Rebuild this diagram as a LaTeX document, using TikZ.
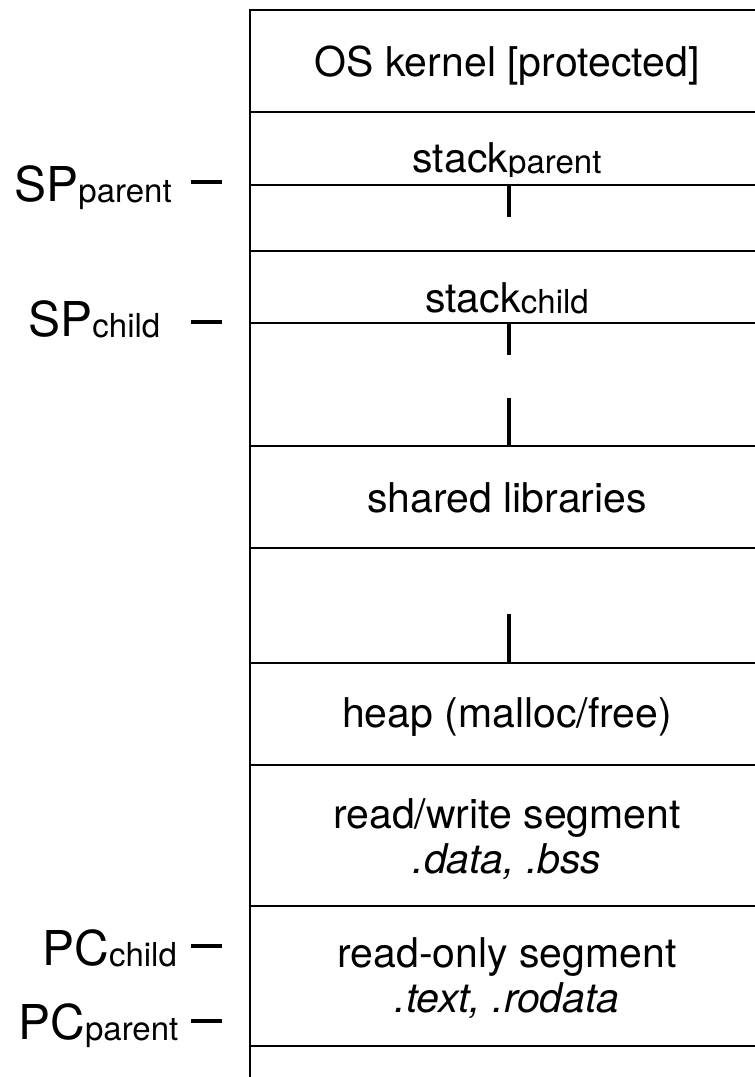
\documentclass[tikz,border=0pt]{standalone}
\usepackage{fontspec}
\setmainfont{TeX Gyre Heros}
\newcommand{\lowsub}[1]{\raisebox{-0.8pt}{\fontsize{16.5}{16.5}\selectfont #1}}

\begin{document}
\begin{tikzpicture}[x=0.5pt, y=-0.5pt,
  seg/.style={line width=1.1pt},
  growtick/.style={line width=1.6pt},
  marker/.style={line width=2.2pt},
  box/.style={font=\fontsize{20.5}{22.5}\selectfont, align=center, inner sep=0pt, anchor=base},
  lbl/.style={font=\fontsize{24}{24}\selectfont, inner sep=0pt, anchor=base west}]
\useasboundingbox (0,0) rectangle (755,1077);

\draw[seg] (250,1077) -- (250,10) -- (755,10);
\foreach \y in {112,185,251,323,446,548,663,765,906,1046}
  \draw[seg] (250,\y) -- (755,\y);

\foreach \a/\b in {185/217, 323/355, 398/446, 614/663}
  \draw[growtick] (509,\a) -- (509,\b);

\node[box] (kernel) at (507,76) {OS kernel [protected]};
\begin{scope}
\clip (250,112) rectangle (755,176);
\node[box] (stackp) at (507,172) {stack\lowsub{parent}};
\end{scope}
\node[box] (stackc) at (507,312) {stack\lowsub{child}};
\node[box] (shlib) at (507,512) {shared libraries};
\node[box] (heap) at (507,727) {heap (malloc/free)};
% multi-line nodes sit on their last line
\node[box] (rwseg) at (507,873) {read/write segment\\\textit{.data, .bss}};
\node[box] (roseg) at (507,1012) {read-only segment\\\textit{.text, .rodata}};

\node[lbl] (spp) at (14,201) {SP\lowsub{parent}};
\node[lbl] (spc) at (28,336) {SP\lowsub{child}};
\node[lbl] (pcc) at (42,965) {PC\lowsub{child}};
\node[lbl] (pcp) at (18,1039) {PC\lowsub{parent}};

\draw[marker] (191,182) -- (222,182);
\draw[marker] (191,322) -- (222,322);
\draw[marker] (191,946) -- (222,946);
\draw[marker] (191,1021) -- (222,1021);

\end{tikzpicture}
\end{document}
